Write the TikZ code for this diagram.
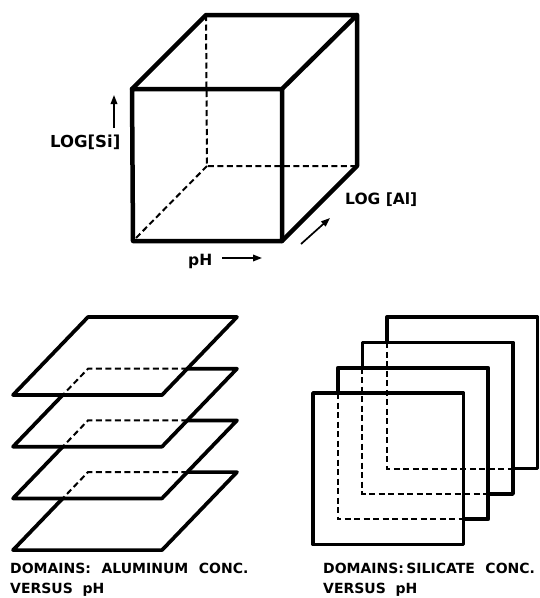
\documentclass[tikz,border=0pt]{standalone}
\usepackage{fontspec}
\setmainfont{DejaVu Sans}
\usetikzlibrary{calc,arrows.meta}
\begin{document}
\begin{tikzpicture}[x=1pt,y=-1pt,
  cubeline/.style={line width=4.5pt,line join=round,line cap=round},
  planeline/.style={line width=3.7pt,line join=round,line cap=round},
  hidden/.style={line width=2pt,dash pattern=on 6pt off 3.5pt},
  axisarrow/.style={line width=1.7pt,-{Triangle[length=9pt,width=6.5pt]}},
  lbl/.style={inner sep=0pt,anchor=base west,font=\bfseries\fontsize{15}{18}\selectfont},
  biglbl/.style={lbl,font=\bfseries\fontsize{16.5}{19}\selectfont},
  caplbl/.style={lbl,font=\bfseries\fontsize{14}{17}\selectfont}]
\useasboundingbox (0,0) rectangle (540,598);

% ---------- cube ----------
\coordinate (fTL) at (132,89);
\coordinate (fTR) at (282,89);
\coordinate (fBR) at (282,241);
\coordinate (fBL) at (133,241);
\coordinate (bTL) at (206,15);
\coordinate (bTR) at (357,15);
\coordinate (bBR) at (357,166);
\coordinate (bBL) at (207,166);
\draw[hidden] (bTL) -- (bBL) -- (bBR);
\draw[hidden] (bBL) -- (fBL);
\draw[cubeline] (fTL) -- (fTR) -- (fBR) -- (fBL) -- cycle;
\draw[cubeline] (fTL) -- (bTL) -- (bTR) -- (fTR);
\draw[cubeline] (bTR) -- (bBR) -- (fBR);

% axis labels
\node[biglbl] (si) at (50,147) {LOG[Si]};
\coordinate (siA) at (114,128);
\coordinate (siB) at (114,95);
\draw[axisarrow] (siA) -- (siB);
\node[lbl,font=\bfseries\fontsize{15.5}{18}\selectfont] (ph) at (188,265) {pH};
\coordinate (phA) at (222,258);
\coordinate (phB) at (262,258);
\draw[axisarrow] (phA) -- (phB);
\node[lbl,font=\bfseries\fontsize{15.5}{18}\selectfont] (al) at (345,204) {LOG [Al]};
\coordinate (alA) at (301,244);
\coordinate (alB) at (330,218);
\draw[axisarrow] (alA) -- (alB);

% ---------- stacked planes ----------
\foreach \k in {0,1,2,3}{
  \pgfmathsetmacro\ty{317+51.7*\k}
  \coordinate (pA\k) at (88,\ty);
  \coordinate (pB\k) at (237,\ty);
  \coordinate (pC\k) at (162,\ty+78);
  \coordinate (pD\k) at (13,\ty+78);
}
\draw[planeline] (pA0) -- (pB0) -- (pC0) -- (pD0) -- cycle;
\foreach \k in {1,2,3}{
  \coordinate (pP\k) at ($(pB\k)+(-49.7,0)$);
  \coordinate (pQ\k) at ($(pA\k)!0.337!(pD\k)$);
  \draw[hidden] (pP\k) -- (pA\k) -- (pQ\k);
  \draw[planeline] (pQ\k) -- (pD\k) -- (pC\k) -- (pB\k) -- (pP\k);
}

% ---------- stacked squares ----------
\foreach \k in {0,1,2,3}{
  \pgfmathsetmacro\sx{313+24.7*\k}
  \pgfmathsetmacro\sy{393-25.3*\k}
  \coordinate (sTL\k) at (\sx,\sy);
  \coordinate (sTR\k) at (\sx+150.5,\sy);
  \coordinate (sBR\k) at (\sx+150.5,\sy+151.5);
  \coordinate (sBL\k) at (\sx,\sy+151.5);
  \coordinate (sU\k) at (\sx,\sy+25.3);
  \coordinate (sV\k) at (\sx+125.8,\sy+151.5);
}
\draw[planeline] (sTL0) -- (sTR0) -- (sBR0) -- (sBL0) -- cycle;
\foreach \k in {1,2,3}{
  \draw[hidden] (sU\k) -- (sBL\k) -- (sV\k);
  \draw[planeline] (sU\k) -- (sTL\k) -- (sTR\k) -- (sBR\k) -- (sV\k);
}

% ---------- captions ----------
\node[caplbl] (capL1) at (10,573) {DOMAINS:\hspace{0.75em}ALUMINUM\hspace{0.75em}CONC.};
\node[caplbl] (capL2) at (10,593) {VERSUS\hspace{0.7em}pH};
\node[caplbl] (capR1) at (323,573) {DOMAINS:\,SILICATE\hspace{0.75em}CONC.};
\node[caplbl] (capR2) at (323,593) {VERSUS\hspace{0.7em}pH};
\end{tikzpicture}
\end{document}
